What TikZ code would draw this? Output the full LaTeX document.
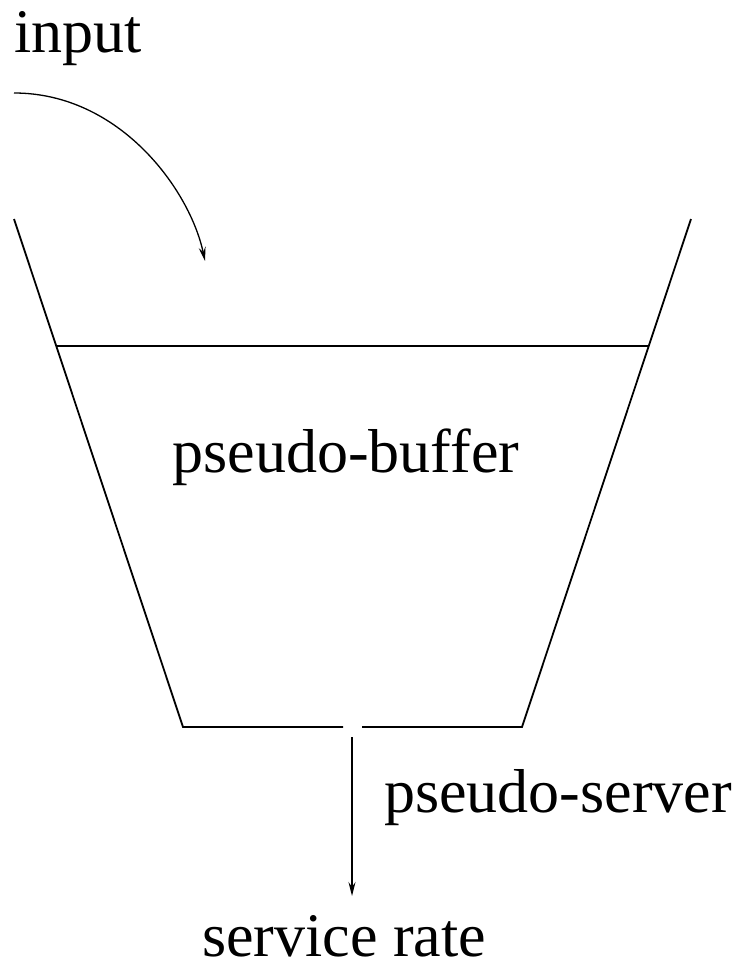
\documentclass[tikz,border=0pt]{standalone}
\usepackage{fontspec}
\setmainfont{Liberation Serif}
\usetikzlibrary{arrows.meta}
\begin{document}
\begin{tikzpicture}[x=1pt,y=-1pt,
  wall/.style={line width=1.8pt,black},
  flow/.style={line width=1.3pt,black,-{Stealth[length=14pt,width=7pt,inset=5pt]}},
  lbl/.style={inner sep=0pt,anchor=base,font=\fontsize{62}{70}\selectfont}]
\useasboundingbox (0,0) rectangle (737,972);
% funnel
\coordinate (lt) at (14,219);
\coordinate (lb) at (183,727);
\coordinate (rt) at (691,219);
\coordinate (rb) at (522,727);
\coordinate (gl) at (343,727);
\coordinate (gr) at (362,727);
\coordinate (ll) at (56.5,346);
\coordinate (lr) at (648.5,346);
\draw[wall] (lt) -- (lb) -- (gl);
\draw[wall] (gr) -- (rb) -- (rt);
\draw[wall] (ll) -- (lr);
% texts
\node[lbl] (input) at (78,52) {input};
\node[lbl] (buffer) at (346,472) {pseudo-buffer};
\node[lbl] (server) at (558,812) {pseudo-server};
\node[lbl] (rate) at (344,956) {service rate};
% arrows
\coordinate (cs) at (14,93);
\coordinate (ce) at (205,261);
\draw[flow] (cs) .. controls (120,93) and (190,190) .. (ce);
\coordinate (as) at (352,737);
\coordinate (ae) at (352,896);
\draw[flow] (as) -- (ae);
\end{tikzpicture}
\end{document}
